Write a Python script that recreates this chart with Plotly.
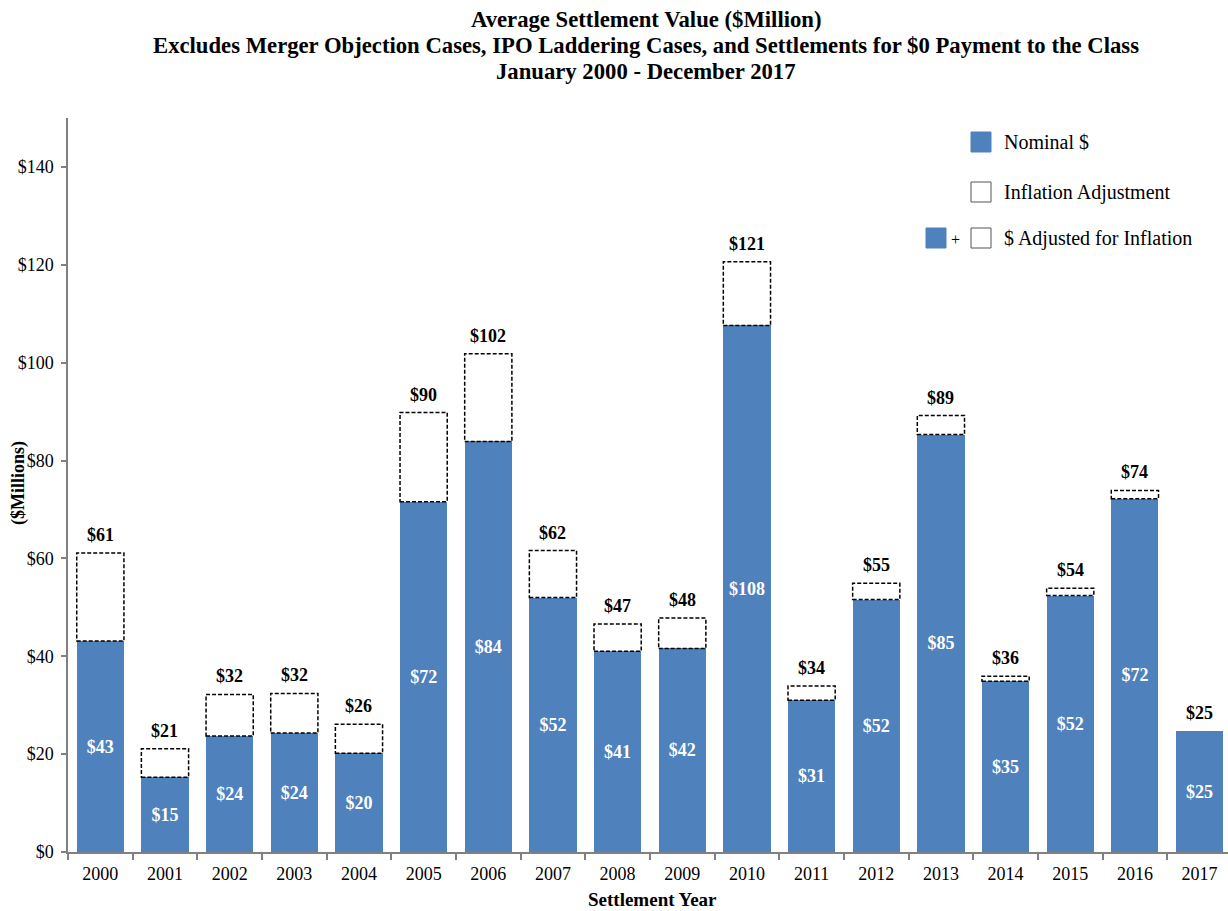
import plotly.graph_objects as go

years = [str(y) for y in range(2000, 2018)]
nominal = [43.1, 15.3, 23.7, 24.3, 20.2, 71.6, 83.9, 52.0, 41.0, 41.6,
           107.6, 31.0, 51.6, 85.3, 34.9, 52.4, 72.2, 24.7]
adjusted = [61.1, 21.1, 32.2, 32.4, 26.1, 89.8, 101.8, 61.6, 46.6, 47.8,
            120.6, 33.9, 54.9, 89.2, 35.9, 53.9, 73.9, 24.7]
inflation = [a - n for a, n in zip(adjusted, nominal)]
ytick_vals = [0, 20, 40, 60, 80, 100, 120, 140]
title_lines = ["Average Settlement Value ($Million)",
               "Excludes Merger Objection Cases, IPO Laddering Cases, and Settlements for $0 Payment to the Class",
               "January 2000 - December 2017"]

BLUE = "#4F81BD"
SERIF = "Liberation Serif, Times New Roman, serif"
W, H = 1228, 911
ML, MR, MT, MB = 68, 0, 118, 59
PW, PH = W - ML - MR, H - MT - MB
BARW = 0.73

def px(x):
    return (x - ML) / PW

def py(y):
    return (H - MB - y) / PH

xs = list(range(len(years)))

fig = go.Figure()
fig.add_trace(go.Bar(
    x=xs, y=nominal, width=BARW, name="Nominal $",
    marker=dict(color=BLUE, line=dict(width=0)),
    text=["<b>$%d</b>" % round(v) for v in nominal],
    textposition="inside", insidetextanchor="middle",
    textfont=dict(family=SERIF, size=18, color="white"),
    constraintext="none", showlegend=False,
))
fig.add_trace(go.Bar(
    x=xs, y=inflation, width=BARW, name="Inflation Adjustment",
    marker=dict(color="white", line=dict(width=0)),
    showlegend=False, hoverinfo="skip",
))

shapes = []
for i, (n, a) in enumerate(zip(nominal, adjusted)):
    if a - n > 0.05:
        shapes.append(dict(type="rect", xref="x", yref="y",
                           x0=i - BARW / 2, x1=i + BARW / 2, y0=n, y1=a,
                           line=dict(color="black", width=1.5, dash="4px,2px"),
                           fillcolor="rgba(0,0,0,0)", layer="above"))

annotations = []
for i, a in enumerate(adjusted):
    annotations.append(dict(x=i, y=a, xref="x", yref="y", text="<b>$%d</b>" % round(a),
                            showarrow=False, yanchor="bottom", yshift=6,
                            font=dict(family=SERIF, size=18, color="black")))

# Legend (manual)
SQ = 20
def sq(x, y, fill):
    return dict(type="rect", xref="paper", yref="paper",
                x0=px(x), x1=px(x + SQ), y0=py(y + SQ), y1=py(y),
                fillcolor=fill, line=dict(color="#555555" if fill != BLUE else BLUE, width=1))

shapes += [sq(971, 132, BLUE), sq(971, 182, "white"), sq(926, 228, BLUE), sq(971, 228, "white")]
leg_font = dict(family=SERIF, size=20, color="black")
for txt, yy in [("Nominal $", 142), ("Inflation Adjustment", 192), ("$ Adjusted for Inflation", 238)]:
    annotations.append(dict(x=px(1002), y=py(yy), xref="paper", yref="paper", text=txt,
                            showarrow=False, xanchor="left", yanchor="middle", font=leg_font))
annotations.append(dict(x=px(955), y=py(239), xref="paper", yref="paper", text="+",
                        showarrow=False, xanchor="center", yanchor="middle",
                        font=dict(family=SERIF, size=16, color="black")))

# Title lines
for txt, yy in zip(title_lines, [19, 45, 71]):
    annotations.append(dict(x=px(646), y=py(yy), xref="paper", yref="paper", text="<b>%s</b>" % txt,
                            showarrow=False, xanchor="center", yanchor="middle",
                            font=dict(family=SERIF, size=22.7, color="black")))

# Axis titles
annotations.append(dict(x=px(19), y=py(483), xref="paper", yref="paper", text="<b>($Millions)</b>",
                        showarrow=False, textangle=-90, xanchor="center", yanchor="middle",
                        font=dict(family=SERIF, size=18, color="black")))
annotations.append(dict(x=px(652), y=py(899), xref="paper", yref="paper", text="<b>Settlement Year</b>",
                        showarrow=False, xanchor="center", yanchor="middle",
                        font=dict(family=SERIF, size=19, color="black")))

fig.update_layout(
    width=W, height=H, barmode="stack",
    margin=dict(l=ML, r=MR, t=MT, b=MB),
    paper_bgcolor="white", plot_bgcolor="white",
    shapes=shapes, annotations=annotations,
    xaxis=dict(range=[-0.5, 17.44], tickmode="array", tickvals=xs, ticktext=years,
               ticks="", showgrid=False, zeroline=False, ticklabelstandoff=5,
               showline=True, linecolor="#808080", linewidth=1.5,
               tickfont=dict(family=SERIF, size=18, color="black"),
               minor=dict(tickmode="linear", tick0=-0.5, dtick=1, ticks="outside",
                          ticklen=6, tickcolor="#808080", tickwidth=1.5, showgrid=False)),
    yaxis=dict(range=[0, 150], tickmode="array", tickvals=ytick_vals,
               ticktext=["$%d" % v for v in ytick_vals], ticklabelstandoff=4,
               ticks="outside", ticklen=5, tickcolor="#808080", tickwidth=1.5,
               showgrid=False, zeroline=False, showline=True, linecolor="#808080", linewidth=1.5,
               tickfont=dict(family=SERIF, size=18, color="black")),
    font=dict(family=SERIF),
)

fig.write_html("out.html")
